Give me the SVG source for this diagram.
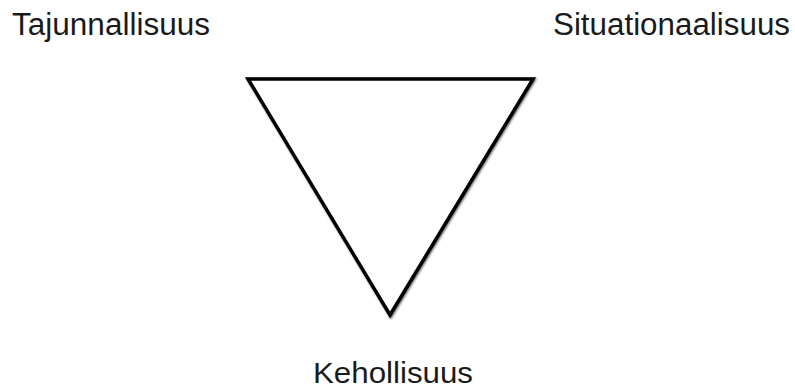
<svg xmlns="http://www.w3.org/2000/svg" width="795" height="390" viewBox="0 0 795 390">
<style>
.lbl{font-family:"Liberation Sans",Arial,sans-serif;font-size:31px;fill:#1a1a1a}
.tri{fill:#ffffff;stroke:#000000;stroke-width:3.5;stroke-linejoin:miter}
</style>
<defs>
<filter id="sh" x="-10%" y="-10%" width="120%" height="120%">
<feGaussianBlur in="SourceAlpha" stdDeviation="1.2" result="b"/>
<feOffset in="b" dx="0.5" dy="1" result="o"/>
<feComponentTransfer in="o" result="s"><feFuncA type="linear" slope="0.6"/></feComponentTransfer>
<feMerge><feMergeNode in="s"/><feMergeNode in="SourceGraphic"/></feMerge>
</filter>
</defs>
<rect width="795" height="390" fill="#ffffff"/>
<g id="triangle">
<polygon class="tri" filter="url(#sh)" points="248,79 533,79 390,315"/>
</g>
<g id="connectors"></g>
<g id="node-tajunnallisuus"><text class="lbl" x="12" y="35" textLength="198" lengthAdjust="spacingAndGlyphs">Tajunnallisuus</text></g>
<g id="node-situationaalisuus"><text class="lbl" x="553" y="35" textLength="237" lengthAdjust="spacingAndGlyphs">Situationaalisuus</text></g>
<g id="node-kehollisuus"><text class="lbl" x="313" y="383" style="font-size:30px" textLength="160" lengthAdjust="spacingAndGlyphs">Kehollisuus</text></g>
</svg>
